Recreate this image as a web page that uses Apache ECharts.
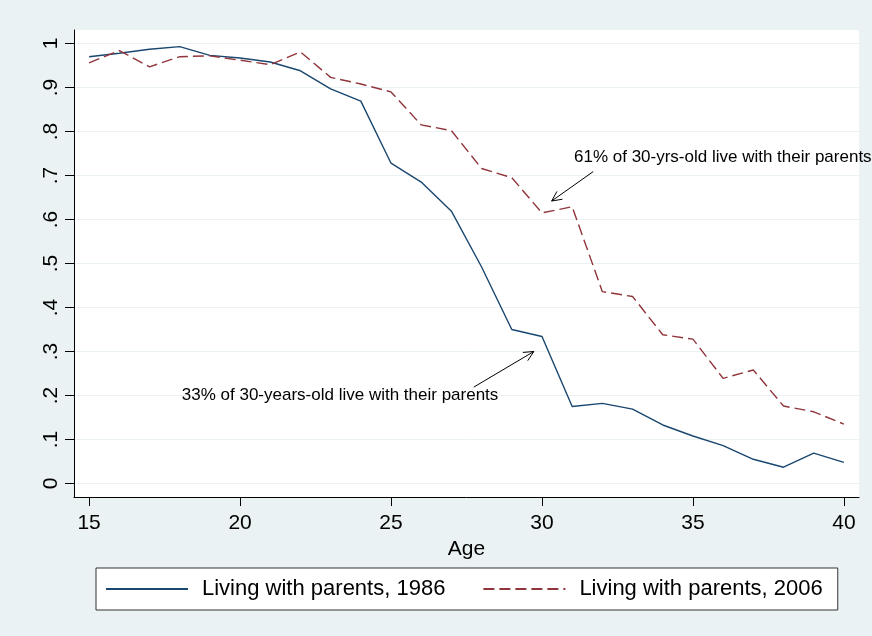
<!DOCTYPE html>
<html>
<head>
<meta charset="utf-8">
<script src="https://cdn.jsdelivr.net/npm/echarts@6/dist/echarts.min.js"></script>
<style>
  html, body { margin: 0; padding: 0; background: #eaf2f3; }
  #chart { width: 872px; height: 636px; }
</style>
</head>
<body>
<div id="chart"></div>
<script>
// ages and shares living with parents
const ages = [15, 16, 17, 18, 19, 20, 21, 22, 23, 24, 25, 26, 27, 28, 29, 30, 31, 32, 33, 34, 35, 36, 37, 38, 39, 40];
const share1986 = [0.970, 0.978, 0.987, 0.993, 0.973, 0.967, 0.958, 0.938, 0.897, 0.869, 0.728, 0.685, 0.619, 0.492, 0.350, 0.334,
                   0.175, 0.182, 0.169, 0.133, 0.108, 0.086, 0.055, 0.037, 0.069, 0.048];
const share2006 = [0.956, 0.984, 0.947, 0.970, 0.972, 0.962, 0.952, 0.981, 0.923, 0.908, 0.890, 0.815, 0.802, 0.716, 0.695, 0.615,
                   0.629, 0.436, 0.425, 0.338, 0.328, 0.239, 0.258, 0.176, 0.163, 0.135];

const xTicks = [15, 20, 25, 30, 35, 40];
const yTicks = [0, 0.1, 0.2, 0.3, 0.4, 0.5, 0.6, 0.7, 0.8, 0.9, 1];
const yTickLabels = ['0', '.1', '.2', '.3', '.4', '.5', '.6', '.7', '.8', '.9', '1'];

// annotations: [age, share] + text, arrows [fromAge, fromShare, toAge, toShare]
const noteText = ['61% of 30-yrs-old live with their parents', '33% of 30-years-old live with their parents'];
const notePos = [[31.06, 0.742], [18.07, 0.201]];
const arrows = [[31.70, 0.709, 30.32, 0.642], [27.74, 0.219, 29.73, 0.300]];

const FONT = '"Liberation Sans", Arial, sans-serif';
const NAVY = '#1a476f';
const MAROON = '#90353b';

const chart = echarts.init(document.getElementById('chart'), null, { renderer: 'canvas' });

const option = {
  backgroundColor: '#eaf2f3',
  animation: false,
  grid: {
    left: 74, right: 13, top: 30, bottom: 139,
    show: true, backgroundColor: '#ffffff', borderWidth: 0
  },
  legend: {
    data: ['Living with parents, 1986', 'Living with parents, 2006'],
    left: 96, top: 568,
    backgroundColor: '#ffffff',
    borderColor: '#333333', borderWidth: 1, borderRadius: 0,
    padding: [10, 15, 10, 9],
    itemWidth: 82, itemHeight: 14, itemGap: 37,
    selectedMode: false,
    itemStyle: { opacity: 0 },
    textStyle: { fontFamily: FONT, fontSize: 22, lineHeight: 22, color: '#000', padding: [0, 0, 0, 9] }
  },
  xAxis: {
    type: 'value', min: 14.5, max: 40.5,
    name: 'Age', nameLocation: 'middle', nameGap: 37,
    nameTextStyle: { fontFamily: FONT, fontSize: 21, color: '#000' },
    axisLine: { show: true, onZero: false, lineStyle: { color: '#000', width: 1 } },
    axisTick: { show: true, length: 9, customValues: xTicks, lineStyle: { color: '#000' } },
    axisLabel: { customValues: xTicks, fontFamily: FONT, fontSize: 21, color: '#000', margin: 16 },
    splitLine: { show: false }
  },
  yAxis: {
    type: 'value', min: -0.0307, max: 1.0307,
    axisLine: { show: true, onZero: false, lineStyle: { color: '#000', width: 1 } },
    axisTick: { show: true, length: 9, customValues: yTicks, lineStyle: { color: '#000' } },
    axisLabel: {
      customValues: yTicks, rotate: 90, margin: 12,
      fontFamily: FONT, fontSize: 21, color: '#000',
      formatter: v => {
        const i = yTicks.findIndex(t => Math.abs(t - v) < 1e-9);
        return i >= 0 ? yTickLabels[i] : '';
      }
    },
    splitLine: { show: true, lineStyle: { color: '#eaf2f3', width: 1 } }
  },
  series: [
    {
      name: 'Living with parents, 1986',
      type: 'line',
      data: ages.map((a, i) => [a, share1986[i]]),
      symbol: 'none',
      color: NAVY,
      lineStyle: { color: NAVY, width: 1.4 }
    },
    {
      name: 'Living with parents, 2006',
      type: 'line',
      data: ages.map((a, i) => [a, share2006[i]]),
      symbol: 'none',
      color: MAROON,
      lineStyle: { color: MAROON, width: 1.4, type: [11, 5] }
    },
    {
      type: 'custom',
      silent: true,
      data: arrows,
      encode: { x: [0, 2], y: [1, 3] },
      renderItem: (params, api) => {
        const p1 = api.coord([api.value(0), api.value(1)]);
        const p2 = api.coord([api.value(2), api.value(3)]);
        const ang = Math.atan2(p2[1] - p1[1], p2[0] - p1[0]);
        const len = 11, spread = 0.45;
        const h1 = [p2[0] - len * Math.cos(ang - spread), p2[1] - len * Math.sin(ang - spread)];
        const h2 = [p2[0] - len * Math.cos(ang + spread), p2[1] - len * Math.sin(ang + spread)];
        return {
          type: 'group',
          children: [
            { type: 'line', shape: { x1: p1[0], y1: p1[1], x2: p2[0], y2: p2[1] }, style: { stroke: '#000', lineWidth: 1 } },
            { type: 'polyline', shape: { points: [h1, p2, h2] }, style: { stroke: '#000', lineWidth: 1, fill: null } }
          ]
        };
      }
    },
    {
      type: 'custom',
      silent: true,
      data: notePos,
      renderItem: (params, api) => {
        const p = api.coord([api.value(0), api.value(1)]);
        return {
          type: 'text', x: p[0], y: p[1],
          style: {
            text: noteText[params.dataIndex],
            fill: '#000', fontFamily: FONT, fontSize: 17,
            align: 'left', verticalAlign: 'middle'
          }
        };
      }
    }
  ]
};

chart.setOption(option);
</script>
</body>
</html>
